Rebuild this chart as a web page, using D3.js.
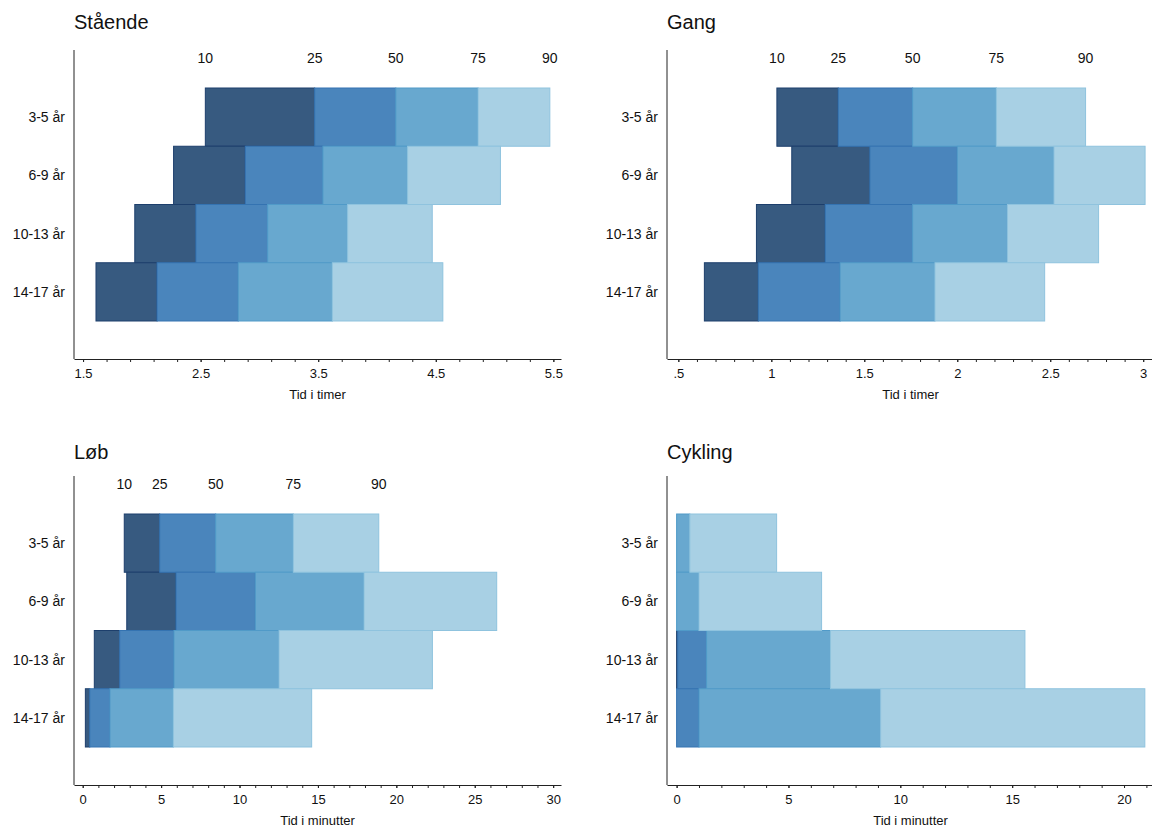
<!DOCTYPE html>
<html>
<head>
<meta charset="utf-8">
<script src="https://cdn.jsdelivr.net/npm/d3@7"></script>
<style>
  body { margin: 0; background: #fff; }
  svg { font-family: "Liberation Sans", Arial, sans-serif; }
</style>
</head>
<body>
<svg id="chart" width="1152" height="828"></svg>
<script>
// Percentile bars (10-25-50-75-90) per age group, four activities

const ageGroups = ["3-5 år", "6-9 år", "10-13 år", "14-17 år"];
const pctLabels = ["10", "25", "50", "75", "90"];

// values: p10, p25, p50, p75, p90
const standing = [
  [2.54, 3.47, 4.16, 4.86, 5.47],
  [2.27, 2.88, 3.54, 4.26, 5.05],
  [1.94, 2.46, 3.07, 3.75, 4.47],
  [1.61, 2.13, 2.82, 3.62, 4.56]
];
const walking = [
  [1.03, 1.36, 1.76, 2.21, 2.69],
  [1.11, 1.53, 2.00, 2.52, 3.01],
  [0.92, 1.29, 1.76, 2.27, 2.76],
  [0.64, 0.93, 1.37, 1.88, 2.47]
];
const running = [
  [2.65, 4.91, 8.48, 13.43, 18.88],
  [2.81, 5.95, 11.01, 17.94, 26.40],
  [0.74, 2.36, 5.82, 12.52, 22.30],
  [0.17, 0.45, 1.74, 5.78, 14.60]
];
const cycling = [
  [0, 0, 0, 0.59, 4.47],
  [0, 0, 0, 1.00, 6.48],
  [0, 0.05, 1.34, 6.88, 15.57],
  [0, 0, 1.00, 9.12, 20.93]
];

const standingTicks = [1.5, 2.5, 3.5, 4.5, 5.5];
const walkingTicks = [0.5, 1, 1.5, 2, 2.5, 3];
const runningTicks = [0, 5, 10, 15, 20, 25, 30];
const cyclingTicks = [0, 5, 10, 15, 20];

const fills = ["#375a80", "#4a85bc", "#68a8cf", "#a8d0e4"];
const strokes = ["#1d3f6c", "#3473b1", "#509ac8", "#8fc3de"];

const W = 487, H = 309;

const panels = [
  { title: "Stående", data: standing, domain: [1.423, 5.565], ticks: standingTicks,
    minor: [1.5, 5.5, 0.2], xlab: "Tid i timer", showPct: true, left: 74, top: 50, titleY: -21 },
  { title: "Gang", data: walking, domain: [0.439, 3.058], ticks: walkingTicks,
    minor: [0.5, 3, 0.1], xlab: "Tid i timer", showPct: true, left: 667, top: 50, titleY: -21 },
  { title: "Løb", data: running, domain: [-0.555, 30.5], ticks: runningTicks,
    minor: [0, 30, 1], xlab: "Tid i minutter", showPct: true, left: 74, top: 476, titleY: -17 },
  { title: "Cykling", data: cycling, domain: [-0.43, 21.34], ticks: cyclingTicks,
    minor: [0, 21, 1], xlab: "Tid i minutter", showPct: false, left: 667, top: 476, titleY: -17 }
];

const svg = d3.select("#chart");

// Stata style: drop the leading zero (".5")
function fmt(v) {
  const s = d3.format("~g")(v);
  return s.startsWith("0.") ? s.slice(1) : s;
}

function drawPanel(p) {
  const g = svg.append("g").attr("transform", `translate(${p.left},${p.top})`);

  const x = d3.scaleLinear().domain(p.domain).range([0, W]);
  const y = d3.scaleBand().domain(ageGroups).range([38, 271]).padding(0);

  // bars, one series at a time
  for (let s = 0; s < 4; s++) {
    g.append("g")
      .selectAll("rect")
      .data(p.data)
      .enter()
      .append("rect")
      .attr("x", d => x(d[s]))
      .attr("y", (d, i) => y(ageGroups[i]))
      .attr("width", d => Math.max(0, x(d[s + 1]) - x(d[s])))
      .attr("height", y.bandwidth())
      .attr("fill", fills[s])
      .attr("stroke", strokes[s])
      .attr("stroke-width", 1);
  }

  // percentile labels above the first row
  if (p.showPct) {
    g.append("g")
      .selectAll("text")
      .data(pctLabels)
      .enter()
      .append("text")
      .attr("x", (d, i) => x(p.data[0][i]))
      .attr("y", 13)
      .attr("text-anchor", "middle")
      .attr("font-size", 14)
      .attr("fill", "#111")
      .text(d => d);
  }

  // y labels
  g.append("g")
    .selectAll("text")
    .data(ageGroups)
    .enter()
    .append("text")
    .attr("x", -9)
    .attr("y", d => y(d) + y.bandwidth() / 2)
    .attr("dy", "0.35em")
    .attr("text-anchor", "end")
    .attr("font-size", 14)
    .attr("fill", "#111")
    .text(d => d);

  // y axis line
  g.append("line")
    .attr("x1", 0).attr("x2", 0)
    .attr("y1", 0).attr("y2", H)
    .attr("stroke", "#222");

  // x axis: minor ticks, then labelled ticks
  const minorVals = d3.range(p.minor[0], p.minor[1] + p.minor[2] / 2, p.minor[2]);
  g.append("g")
    .attr("transform", `translate(0,${H})`)
    .call(d3.axisBottom(x).tickValues(minorVals).tickSize(3).tickSizeOuter(0).tickFormat(""))
    .call(a => a.select(".domain").attr("stroke", "#222"))
    .call(a => a.selectAll(".tick line").attr("stroke", "#222"));

  g.append("g")
    .attr("transform", `translate(0,${H})`)
    .call(d3.axisBottom(x).tickValues(p.ticks).tickSize(3).tickPadding(7).tickFormat(fmt))
    .call(a => a.select(".domain").remove())
    .call(a => a.selectAll(".tick line").attr("stroke", "#222"))
    .call(a => a.selectAll(".tick text")
      .attr("font-size", 13)
      .attr("font-family", "Liberation Sans, Arial, sans-serif")
      .attr("fill", "#111"));

  g.append("text")
    .attr("x", W / 2)
    .attr("y", H + 40)
    .attr("text-anchor", "middle")
    .attr("font-size", 13)
    .attr("fill", "#111")
    .text(p.xlab);

  g.append("text")
    .attr("x", 0)
    .attr("y", p.titleY)
    .attr("font-size", 20)
    .attr("fill", "#111")
    .text(p.title);
}

panels.forEach(drawPanel);
</script>
</body>
</html>
